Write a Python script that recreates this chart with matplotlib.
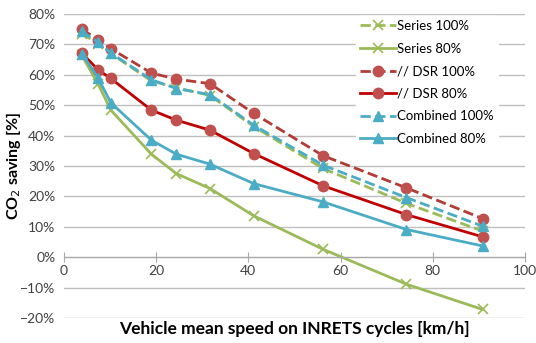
import matplotlib
matplotlib.use('Agg')
from matplotlib import pyplot as plt
from matplotlib.ticker import PercentFormatter

plt.rcParams['font.family'] = ['Lato', 'DejaVu Sans']

# mean speed of each INRETS cycle [km/h]
speed = [3.9, 7.4, 10.2, 19.0, 24.4, 31.7, 41.2, 56.2, 74.3, 90.8]

# CO2 saving [%]
series_100 = [73.6, 70.3, 67.0, 58.0, 55.8, 53.2, 43.0, 29.2, 17.7, 8.6]
series_80 = [66.4, 57.1, 48.4, 33.9, 27.5, 22.6, 13.6, 2.6, -8.9, -17.2]
dsr_100 = [75.0, 71.6, 68.6, 60.6, 58.6, 57.1, 47.3, 33.4, 22.8, 12.7]
dsr_80 = [67.2, 61.7, 58.8, 48.4, 45.1, 41.8, 34.1, 23.5, 14.0, 6.7]
comb_100 = [74.3, 70.8, 67.2, 58.4, 55.5, 53.5, 43.4, 30.3, 19.6, 10.2]
comb_80 = [67.0, 59.1, 50.8, 38.5, 33.9, 30.6, 24.2, 18.2, 9.1, 3.7]

green = '#9BBB59'
red_light = '#C0504D'
red_dark = '#B23B36'
red = '#C00000'
blue = '#4BACC6'

fig, ax = plt.subplots(figsize=(5.36, 3.43), dpi=100)
fig.subplots_adjust(left=0.119, right=0.9795, top=0.959, bottom=0.073)

ax.plot(speed, series_100, color=green, linestyle='--', linewidth=2,
        marker='x', markersize=7, markeredgewidth=1.2, label='Series 100%')
ax.plot(speed, series_80, color=green, linestyle='-', linewidth=2,
        marker='x', markersize=7, markeredgewidth=1.2, label='Series 80%')
ax.plot(speed, dsr_100, color=red_dark, linestyle='--', linewidth=2,
        marker='o', markersize=7.5, markerfacecolor=red_light,
        markeredgecolor=red_light, label='// DSR 100%')
ax.plot(speed, dsr_80, color=red, linestyle='-', linewidth=2,
        marker='o', markersize=7.5, markerfacecolor=red_light,
        markeredgecolor=red_light, label='// DSR 80%')
ax.plot(speed, comb_100, color=blue, linestyle='--', linewidth=2,
        marker='^', markersize=7.5, label='Combined 100%')
ax.plot(speed, comb_80, color=blue, linestyle='-', linewidth=2,
        marker='^', markersize=7.5, label='Combined 80%')

ax.set_xlim(0, 100)
ax.set_ylim(-20, 80)
ax.set_xticks([0, 20, 40, 60, 80, 100])
ax.set_yticks(range(-20, 81, 10))
ax.yaxis.set_major_formatter(PercentFormatter(decimals=0))

# horizontal grid only, x axis drawn at 0%
ax.grid(axis='y', color='#BFBFBF', linewidth=1)
ax.set_axisbelow(True)
for s in ['top', 'right', 'left']:
    ax.spines[s].set_visible(False)
ax.spines['bottom'].set_position(('data', 0))
ax.spines['bottom'].set_color('#A6A6A6')
ax.tick_params(axis='x', direction='inout', length=7, color='#A6A6A6',
               labelsize=10, labelcolor='#404040', pad=2)
ax.tick_params(axis='y', length=0, labelsize=10, labelcolor='#404040', pad=6)

ax.set_xlabel('Vehicle mean speed on INRETS cycles [km/h]',
              fontsize=12.5, fontweight='bold')
ax.xaxis.set_label_coords(0.5, -0.01)
ax.set_ylabel('CO$_2$ saving [%]', fontsize=11.5, fontweight='bold')
ax.yaxis.set_label_coords(-0.088, 0.5)

leg = ax.legend(loc='upper right', bbox_to_anchor=(0.955, 1.015), frameon=True,
                fontsize=9.5, handlelength=2.7, handletextpad=0.1,
                labelspacing=0.8, borderpad=0.3)
leg.get_frame().set_edgecolor('white')
leg.get_frame().set_facecolor('white')
leg.get_frame().set_alpha(1)

plt.savefig('out.png', dpi=100)
